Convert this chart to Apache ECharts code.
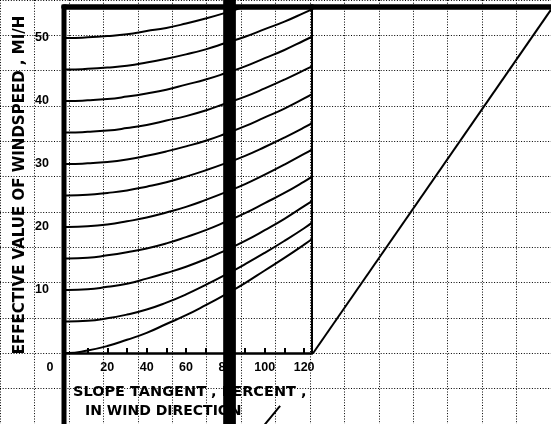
<!DOCTYPE html>
<html><head><meta charset="utf-8">
<script src="https://cdn.jsdelivr.net/npm/echarts@6/dist/echarts.min.js"></script>
<style>html,body{margin:0;padding:0;background:#fff}#c{width:551px;height:424px}</style>
</head><body><div id="c"></div>
<script>
// Slope tangent (percent) sample positions
const slopes = [-2, 0, 10, 20, 30, 40, 50, 60, 70, 80, 90, 100, 110, 120, 124];
// Windspeed curve labels (mi/h at zero slope)
const windLevels = [0, 5, 10, 15, 20, 25, 30, 35, 40, 45, 50];
// Effective windspeed
const curve0  = [0.0, 0.0, 0.4, 1.1, 2.1, 3.2, 4.6, 6.0, 7.6, 9.3, 11.1, 13.1, 15.1, 17.2, 18.1];
const curve5  = [5.0, 5.0, 5.1, 5.5, 6.1, 6.9, 8.0, 9.3, 10.8, 12.4, 14.1, 15.9, 17.8, 19.8, 20.7];
const curve10 = [10.0, 10.0, 10.1, 10.5, 11.0, 11.8, 12.7, 13.7, 14.9, 16.3, 17.8, 19.5, 21.3, 23.3, 24.1];
const curve15 = [15.0, 15.0, 15.1, 15.5, 16.0, 16.6, 17.4, 18.4, 19.5, 20.8, 22.2, 23.8, 25.4, 27.2, 28.0];
const curve20 = [20.0, 20.0, 20.1, 20.4, 20.9, 21.5, 22.3, 23.2, 24.3, 25.5, 26.8, 28.3, 29.9, 31.6, 32.3];
const curve25 = [25.0, 25.0, 25.1, 25.4, 25.8, 26.4, 27.1, 28.0, 29.0, 30.1, 31.3, 32.7, 34.2, 35.8, 36.5];
const curve30 = [30.0, 30.0, 30.1, 30.3, 30.7, 31.3, 32.0, 32.8, 33.7, 34.8, 36.0, 37.4, 38.8, 40.4, 41.1];
const curve35 = [35.0, 35.0, 35.1, 35.3, 35.7, 36.2, 36.9, 37.6, 38.5, 39.6, 40.7, 42.0, 43.4, 44.9, 45.5];
const curve40 = [40.0, 40.0, 40.1, 40.3, 40.7, 41.2, 41.8, 42.6, 43.4, 44.4, 45.5, 46.8, 48.1, 49.6, 50.2];
const curve45 = [45.0, 45.0, 45.1, 45.3, 45.6, 46.1, 46.7, 47.4, 48.2, 49.2, 50.2, 51.4, 52.6, 54.0, 54.6];
const curve50 = [50.0, 50.0, 50.1, 50.3, 50.6, 51.1, 51.6, 52.3, 53.1, 54.0, 55.0, 56.1, 57.3, null, null];
const curves = [curve0, curve5, curve10, curve15, curve20, curve25, curve30, curve35, curve40, curve45, curve50];
// Tick labels
const xTickValues = [10, 20, 30, 40, 50, 60, 70, 80, 90, 100, 110, 120];
const xLabelValues = [20, 40, 60, 80, 100, 120];
const yLabelValues = [10, 20, 30, 40, 50];
// Turning line in the right panel (own scale 0..100)
const turningLine = [[0.5, 0], [100, 54.5]];
// Frame and overlay lines (main chart units)
const leftEdge = [[-2, 55.3], [-2, -11.7]];
const rightEdge = [[124, 0], [124, 55]];
const overlayBar = [[82.1, 57], [82.1, -11.7]];
const lowerSegment = [[99.1, -11.7], [107.8, -8.4]];

const chart = echarts.init(document.getElementById('c'), null, {renderer: 'canvas'});
const black = '#000';
const dotted = {show: true, lineStyle: {color: '#000', width: 1, type: [1, 1.7]}};
const hiddenAxis = {axisLine: {show: false}, axisTick: {show: false}, axisLabel: {show: false}, splitLine: {show: false}};

const curveSeries = curves.map((c, i) => ({
  name: 'V' + windLevels[i],
  type: 'line', xAxisIndex: 1, yAxisIndex: 1,
  data: slopes.map((s, j) => [s, c[j]]),
  smooth: 0.5, showSymbol: false, symbol: 'none',
  lineStyle: {color: black, width: 2}, z: 3, silent: true, animation: false
}));
function frame(data, width, z) {
  return {type: 'line', xAxisIndex: 1, yAxisIndex: 1, data: data, clip: false, symbol: 'none',
    lineStyle: {color: black, width: width, cap: 'butt'}, z: z || 4, silent: true, animation: false};
}

chart.setOption({
  animation: false,
  backgroundColor: '#fff',
  grid: [
    {left: -30.1, top: -13.1, width: 617.6, height: 459.6},
    {left: 64, top: 6.5, width: 248, height: 346.5},
    {left: 312, top: 6.5, width: 239, height: 346.5}
  ],
  xAxis: [
    Object.assign({type: 'value', gridIndex: 0, min: 0, max: 16, interval: 1}, hiddenAxis, {splitLine: dotted}),
    {type: 'value', gridIndex: 1, min: -2, max: 124, position: 'bottom',
      axisLine: {show: true, onZero: false, lineStyle: {color: black, width: 2.5}},
      axisTick: {show: true, inside: true, length: 5, customValues: xTickValues, lineStyle: {color: black, width: 2}},
      axisLabel: {show: true, customValues: xLabelValues, margin: 8, color: black,
        fontFamily: 'Liberation Sans', fontWeight: 'bold', fontSize: 12.5},
      splitLine: {show: false}},
    Object.assign({type: 'value', gridIndex: 1, min: -2, max: 124, position: 'top'}, hiddenAxis,
      {axisLine: {show: true, onZero: false, lineStyle: {color: black, width: 5.5}}}),
    Object.assign({type: 'value', gridIndex: 2, min: 0, max: 100, position: 'top'}, hiddenAxis,
      {axisLine: {show: true, onZero: false, lineStyle: {color: black, width: 5.5}}})
  ],
  yAxis: [
    Object.assign({type: 'value', gridIndex: 0, min: 0, max: 12, interval: 1}, hiddenAxis, {splitLine: dotted}),
    {type: 'value', gridIndex: 1, min: 0, max: 55, interval: 10,
      axisLine: {show: false}, axisTick: {show: false}, splitLine: {show: false},
      axisLabel: {show: true, customValues: yLabelValues, margin: 15, color: black,
        fontFamily: 'Liberation Sans', fontWeight: 'bold', fontSize: 12.5,
        formatter: v => (v > 0 && v % 10 === 0 && v <= 50) ? String(v) : ''}},
    Object.assign({type: 'value', gridIndex: 2, min: 0, max: 55}, hiddenAxis)
  ],
  series: curveSeries.concat([
    {type: 'line', xAxisIndex: 3, yAxisIndex: 2, data: turningLine, symbol: 'none',
      lineStyle: {color: black, width: 2}, z: 3, silent: true, animation: false},
    frame(leftEdge, 5),
    frame(rightEdge, 2),
    frame(lowerSegment, 2),
    frame(overlayBar, 12.7, 10)
  ]),
  graphic: {elements: [
    {type: 'text', x: 50, y: 368, z: 1, style: {text: '0', fill: black, font: 'bold 12.5px "Liberation Sans"', textAlign: 'center', textVerticalAlign: 'middle'}},
    {type: 'text', x: 73, y: 392, z: 1, style: {text: 'SLOPE TANGENT , PERCENT ,', fill: black, font: 'bold 14.5px "DejaVu Sans"', textAlign: 'left', textVerticalAlign: 'middle'}},
    {type: 'text', x: 85, y: 411, z: 1, style: {text: 'IN WIND DIRECTION', fill: black, font: 'bold 14px "DejaVu Sans"', textAlign: 'left', textVerticalAlign: 'middle'}},
    {type: 'text', x: 20, y: 185, rotation: Math.PI / 2, z: 1, style: {text: 'EFFECTIVE VALUE OF WINDSPEED , MI/H', fill: black, font: 'bold 15px "DejaVu Sans"', textAlign: 'center', textVerticalAlign: 'middle'}}
  ]}
});
</script></body></html>
